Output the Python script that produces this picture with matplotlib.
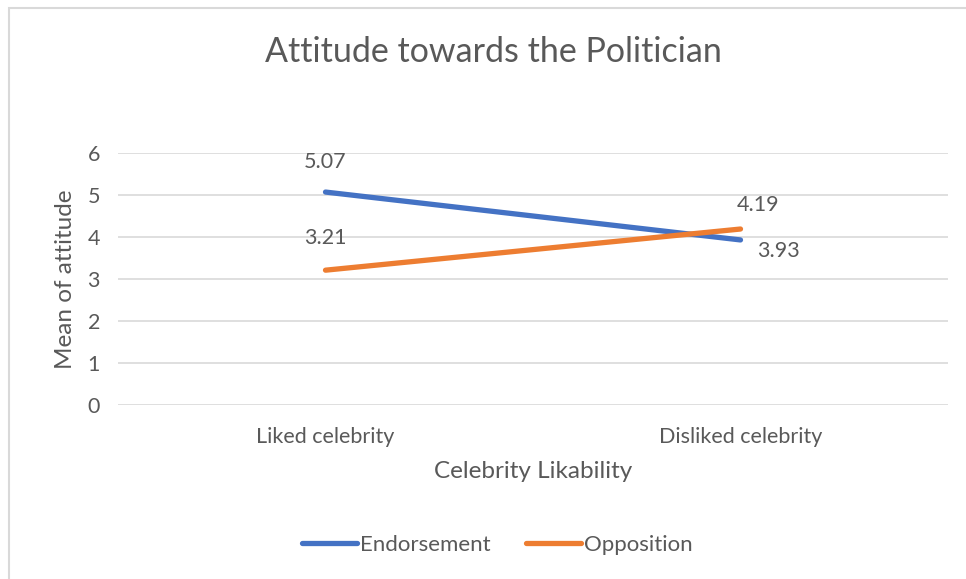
import matplotlib
matplotlib.use("Agg")
import matplotlib.pyplot as plt
from matplotlib.patches import Rectangle

categories = ["Liked celebrity", "Disliked celebrity"]
endorsement = [5.07, 3.93]
opposition = [3.21, 4.19]
yticks = [0, 1, 2, 3, 4, 5, 6]

W, H = 966, 579
fig = plt.figure(figsize=(W / 100, H / 100), dpi=100)
plt.rcParams['font.family'] = ['Lato', 'DejaVu Sans']
tc = '#595959'

# chart border
fig.patches.append(Rectangle((8.5 / W, -0.1), 2.0, 1.1 - 7.5 / H, transform=fig.transFigure,
                             fill=False, edgecolor='#d9d9d9', linewidth=1.5))

ax = fig.add_axes([118 / W, 1 - 405 / H, (948 - 118) / W, (405 - 153) / H])
x = [0, 1]
ax.set_xlim(-0.5, 1.5)
ax.set_ylim(0, 6)
ax.set_yticks(yticks)
ax.set_xticks(x)
ax.set_xticklabels(categories)
ax.grid(axis='y', color='#d9d9d9', linewidth=1.2)
ax.set_axisbelow(True)
for s in ax.spines.values():
    s.set_visible(False)
ax.tick_params(length=0, colors=tc, labelsize=15.5)
ax.tick_params(axis='y', pad=13)
ax.tick_params(axis='x', pad=16)

l1, = ax.plot(x, endorsement, color='#4472C4', linewidth=3.8, solid_capstyle='round', label='Endorsement')
l2, = ax.plot(x, opposition, color='#ED7D31', linewidth=3.8, solid_capstyle='round', label='Opposition')

fs = 15.5
ax.annotate(f"{endorsement[0]:.2f}", (x[0], endorsement[0]), xytext=(0, 22), textcoords='offset points',
            ha='center', va='center', fontsize=fs, color=tc)
ax.annotate(f"{endorsement[1]:.2f}", (x[1], endorsement[1]), xytext=(27, -8), textcoords='offset points',
            ha='center', va='center', fontsize=fs, color=tc)
ax.annotate(f"{opposition[0]:.2f}", (x[0], opposition[0]), xytext=(0, 23), textcoords='offset points',
            ha='center', va='center', fontsize=fs, color=tc)
ax.annotate(f"{opposition[1]:.2f}", (x[1], opposition[1]), xytext=(13, 17), textcoords='offset points',
            ha='center', va='center', fontsize=fs, color=tc)

ax.set_ylabel("Mean of attitude", fontsize=17.5, color=tc, labelpad=8)
ax.set_xlabel("Celebrity Likability", fontsize=17.5, color=tc, labelpad=10)

fig.text(493 / W, 1 - 52 / H, "Attitude towards the Politician", ha='center', va='center',
         fontsize=24.5, color=tc)

fig.legend(handles=[l1, l2], loc='center', bbox_to_anchor=(497 / W, 1 - 545 / H), ncol=2,
           frameon=False, fontsize=16, labelcolor=tc, handlelength=2.5, handletextpad=0.1,
           columnspacing=1.6)

fig.savefig("out.png", dpi=100)
